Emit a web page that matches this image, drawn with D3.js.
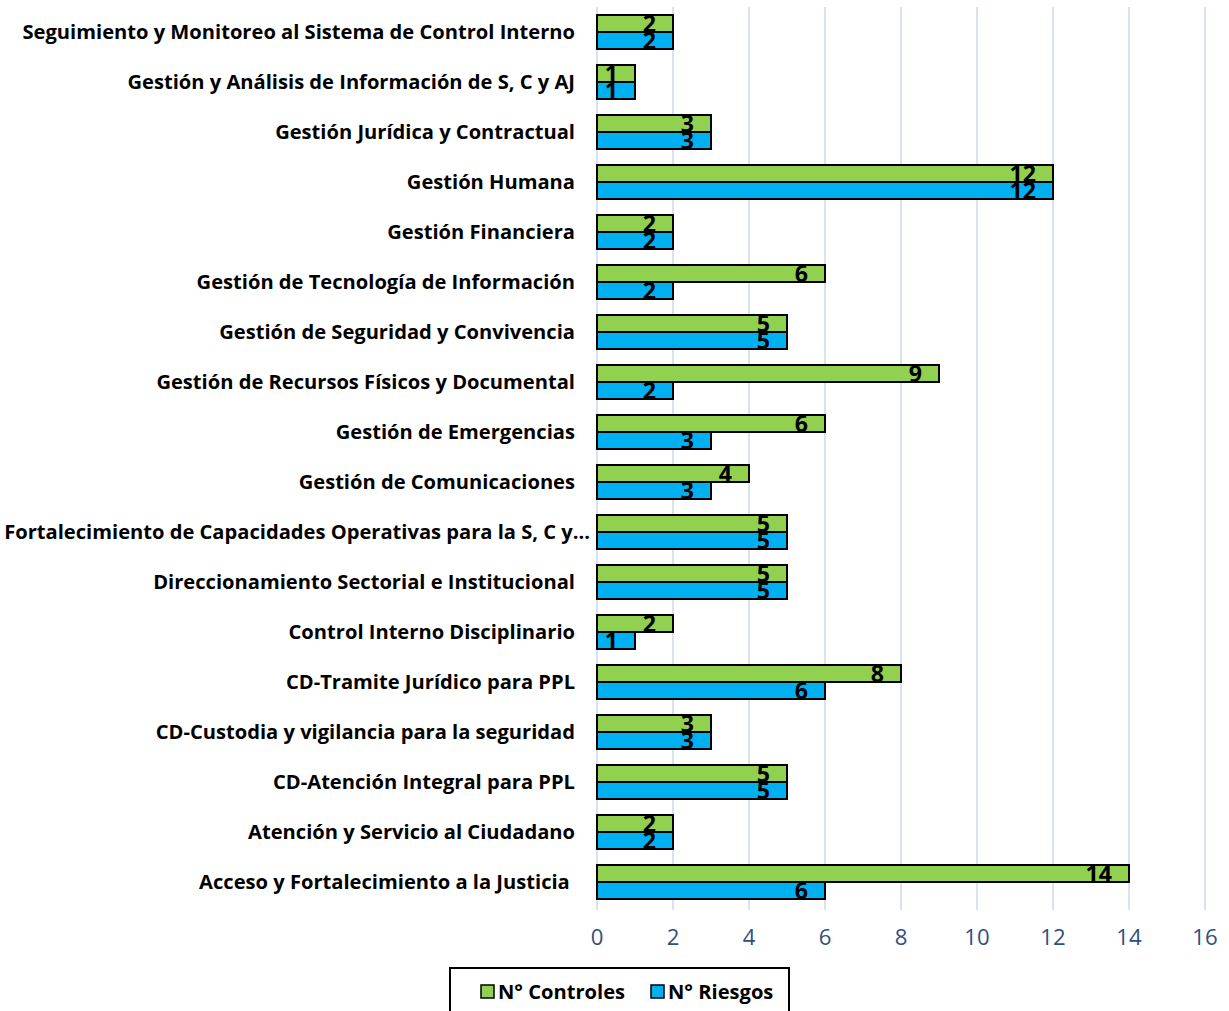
<html>
<head>
<script src="https://cdn.jsdelivr.net/npm/d3@7"></script>
<style>
  body { margin: 0; background: #fff; }
  text { font-family: "Open Sans", "Noto Sans", sans-serif; }
</style>
</head>
<body>
<div id="chart"></div>
<script>
// categories, top to bottom
var categories = [
  "Seguimiento y Monitoreo al Sistema de Control Interno",
  "Gestión y Análisis de Información de S, C y AJ",
  "Gestión Jurídica y Contractual",
  "Gestión Humana",
  "Gestión Financiera",
  "Gestión de Tecnología de Información",
  "Gestión de Seguridad y Convivencia",
  "Gestión de Recursos Físicos y Documental",
  "Gestión de Emergencias",
  "Gestión de Comunicaciones",
  "Fortalecimiento de Capacidades Operativas para la S, C y…",
  "Direccionamiento Sectorial e Institucional",
  "Control Interno Disciplinario",
  "CD-Tramite Jurídico para PPL",
  "CD-Custodia y vigilancia para la seguridad",
  "CD-Atención Integral para PPL",
  "Atención y Servicio al Ciudadano",
  "Acceso y Fortalecimiento a la Justicia "
];
var controles = [2, 1, 3, 12, 2, 6, 5, 9, 6, 4, 5, 5, 2, 8, 3, 5, 2, 14];
var riesgos   = [2, 1, 3, 12, 2, 2, 5, 2, 3, 3, 5, 5, 1, 6, 3, 5, 2, 6];
var xTicks = [0, 2, 4, 6, 8, 10, 12, 14, 16];
var seriesNames = ["N° Controles", "N° Riesgos"];
var seriesColors = ["#92d050", "#00b0f0"];

var width = 1229, height = 1011;
var svg = d3.select("#chart").append("svg")
  .attr("width", width).attr("height", height);

//Scales
var x = d3.scaleLinear().domain([0, 16]).range([597, 1205]);
var y = d3.scaleBand().domain(categories).range([7, 907]);
var barH = 17;

//Gridlines
svg.append("g").selectAll("line").data(xTicks).enter().append("line")
  .attr("x1", function(d){ return x(d); })
  .attr("x2", function(d){ return x(d); })
  .attr("y1", 7).attr("y2", 910)
  .attr("stroke", "#d9e2f3").attr("stroke-width", 2);

//Category labels
var labels = svg.append("g").selectAll("text").data(categories).enter().append("text")
  .attr("x", function(d){ return d.slice(-1) === "…" ? 590 : 575; })
  .attr("y", function(d){ return y(d) + y.bandwidth()/2; })
  .attr("dy", "0.35em")
  .attr("text-anchor", "end")
  .attr("font-weight", "bold")
  .attr("font-size", 20)
  .attr("fill", "#000")
  .style("white-space", "pre")
  .text(function(d){ return d; });

//fit label font to the reference width of the first label (553px)
var w0 = labels.node().getComputedTextLength();
var fs = 20 * 553 / w0;
labels.attr("font-size", fs);

//Bars
var series = [controles, riesgos];
series.forEach(function(vals, s){
  var g = svg.append("g");
  g.selectAll("rect").data(vals).enter().append("rect")
    .attr("x", x(0))
    .attr("y", function(d, i){ return y(categories[i]) + y.bandwidth()/2 - barH + s*barH; })
    .attr("width", function(d){ return x(d) - x(0); })
    .attr("height", barH)
    .attr("fill", seriesColors[s])
    .attr("stroke", "#000").attr("stroke-width", 2);
  g.selectAll("text").data(vals).enter().append("text")
    .attr("x", function(d){ return x(d) - 17; })
    .attr("y", function(d, i){ return y(categories[i]) + y.bandwidth()/2 + s*barH; })
    .attr("text-anchor", "end")
    .attr("font-weight", "bold")
    .attr("font-size", fs * 1.15)
    .attr("fill", "#000")
    .text(function(d){ return d; });
});

//X axis labels
svg.append("g").selectAll("text").data(xTicks).enter().append("text")
  .attr("x", function(d){ return x(d); })
  .attr("y", 937)
  .attr("dy", "0.35em")
  .attr("text-anchor", "middle")
  .attr("font-size", fs * 1.1)
  .attr("fill", "#2f5080")
  .text(function(d){ return d; });

//Legend
var legend = svg.append("g");
legend.append("rect")
  .attr("x", 450).attr("y", 968).attr("width", 339).attr("height", 60)
  .attr("fill", "#fff").attr("stroke", "#000").attr("stroke-width", 2);
var legX = [481, 651];
seriesNames.forEach(function(name, s){
  legend.append("rect")
    .attr("x", legX[s]).attr("y", 985).attr("width", 13).attr("height", 13)
    .attr("fill", seriesColors[s]).attr("stroke", "#000").attr("stroke-width", 1.5);
  legend.append("text")
    .attr("x", legX[s] + 17).attr("y", 992).attr("dy", "0.35em")
    .attr("font-weight", "bold").attr("font-size", fs)
    .attr("fill", "#000")
    .text(name);
});
</script>
</body>
</html>
